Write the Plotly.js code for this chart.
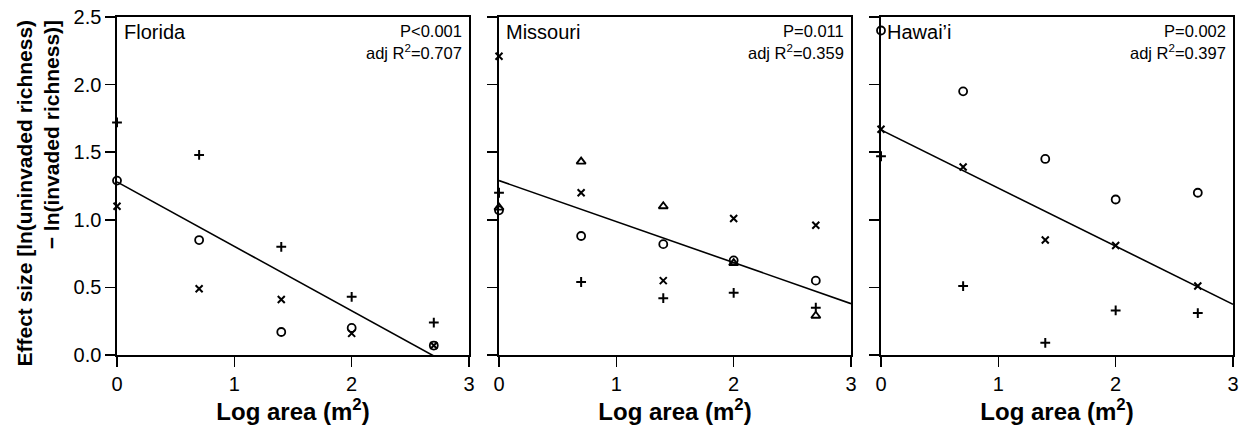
<!DOCTYPE html>
<html>
<head>
<meta charset="utf-8">
<script src="https://cdn.plot.ly/plotly-3.0.1.min.js"></script>
<style>
  html, body { margin: 0; padding: 0; background: #fff; }
  #chart { width: 1244px; height: 428px; }
</style>
</head>
<body>
<div id="chart"></div>
<script>
// ---- data ----
const logArea = [0, 0.7, 1.4, 2.0, 2.7];
const xTicks = [0, 1, 2, 3];
const yTicks = [0, 0.5, 1.0, 1.5, 2.0, 2.5];
const yTickLabels = ["0.0", "0.5", "1.0", "1.5", "2.0", "2.5"];

const panels = ["Florida", "Missouri", "Hawai\u2019i"];
const pLabels = ["P<0.001", "P=0.011", "P=0.002"];
const r2Labels = ["0.707", "0.359", "0.397"];

// Florida
const flPlus = [1.72, 1.48, 0.80, 0.43, 0.24];
const flCross = [1.10, 0.49, 0.41, 0.16, 0.07];
const flCircle = [1.29, 0.85, 0.17, 0.20, 0.07];
// Missouri
const moPlus = [1.20, 0.54, 0.42, 0.46, 0.35];
const moCross = [2.21, 1.20, 0.55, 1.01, 0.96];
const moCircle = [1.07, 0.88, 0.82, 0.70, 0.55];
const moTriangle = [1.09, 1.43, 1.10, 0.68, 0.29];
// Hawai'i
const hiPlus = [1.47, 0.51, 0.09, 0.33, 0.31];
const hiCross = [1.67, 1.39, 0.85, 0.81, 0.51];
const hiCircle = [2.40, 1.95, 1.45, 1.15, 1.20];

// regression lines (fitted values at x = 0 and x = 3)
const fitX = [0, 3];
const flFit = [1.28, -0.15];
const moFit = [1.29, 0.38];
const hiFit = [1.665, 0.375];

// ---- styling ----
const FONT = "Liberation Sans, Arial, Helvetica, sans-serif";
const INK = "#000";

function pts(x, y, axis, symbol, size, lw) {
  return {
    type: "scatter", mode: "markers", x: x, y: y,
    xaxis: "x" + axis, yaxis: "y" + axis,
    cliponaxis: false, showlegend: false, hoverinfo: "x+y",
    marker: { symbol: symbol, size: size, color: INK, line: { color: INK, width: lw } }
  };
}
function fit(y, axis) {
  return {
    type: "scatter", mode: "lines", x: fitX, y: y,
    xaxis: "x" + axis, yaxis: "y" + axis, showlegend: false, hoverinfo: "skip",
    line: { color: INK, width: 1.6 }
  };
}

const data = [
  fit(flFit, ""),
  pts(logArea, flPlus, "", "cross-thin-open", 7, 2),
  pts(logArea, flCross, "", "x-thin-open", 7, 2),
  pts(logArea, flCircle, "", "circle-open", 8, 1.8),

  fit(moFit, "2"),
  pts(logArea, moPlus, "2", "cross-thin-open", 7, 2),
  pts(logArea, moCross, "2", "x-thin-open", 7, 2),
  pts(logArea, moCircle, "2", "circle-open", 8, 1.8),
  pts(logArea, moTriangle, "2", "triangle-up-open", 8, 1.9),

  fit(hiFit, "3"),
  pts(logArea, hiPlus, "3", "cross-thin-open", 7, 2),
  pts(logArea, hiCross, "3", "x-thin-open", 7, 2),
  pts(logArea, hiCircle, "3", "circle-open", 8, 1.8)
];

const W = 1116; // plot width in px (1244 - l - r)
const domains = [[0, 352 / W], [382 / W, 734 / W], [764 / W, 1]];

function xAxis(i) {
  return {
    domain: domains[i], range: [0, 3], tickvals: xTicks, ticktext: xTicks.map(String),
    ticks: "outside", ticklen: 10, tickwidth: 1.6, tickcolor: INK,
    showline: true, mirror: true, linecolor: INK, linewidth: 1.6,
    showgrid: false, zeroline: false,
    tickfont: { family: FONT, size: 20, color: INK },
    anchor: i === 0 ? "y" : "y" + (i + 1),
    title: { text: "<b>Log area (m<sup>2</sup>)</b>", font: { family: FONT, size: 24, color: INK }, standoff: 4 }
  };
}
function yAxis(i) {
  return {
    domain: [0, 1], range: [0, 2.5], tickvals: yTicks, ticktext: yTickLabels,
    showticklabels: i === 0,
    ticks: "outside", ticklen: 10, tickwidth: 1.6, tickcolor: INK,
    showline: true, mirror: true, linecolor: INK, linewidth: 1.6,
    showgrid: false, zeroline: false,
    tickfont: { family: FONT, size: 20, color: INK },
    anchor: i === 0 ? "x" : "x" + (i + 1)
  };
}

const annotations = [];
["", "2", "3"].forEach((ax, i) => {
  annotations.push({
    xref: "x" + ax + " domain", yref: "y" + ax + " domain",
    x: 0, y: 1, xanchor: "left", yanchor: "middle", xshift: i === 2 ? 4 : 5, yshift: -15,
    text: panels[i], showarrow: false,
    font: { family: FONT, size: 20, color: INK }
  });
  annotations.push({
    xref: "x" + ax + " domain", yref: "y" + ax + " domain",
    x: 1, y: 1, xanchor: "right", yanchor: "middle", xshift: -5, yshift: -13.5,
    text: pLabels[i], showarrow: false,
    font: { family: FONT, size: 16.5, color: INK }
  });
  annotations.push({
    xref: "x" + ax + " domain", yref: "y" + ax + " domain",
    x: 1, y: 1, xanchor: "right", yanchor: "middle", xshift: -5, yshift: -35,
    text: "adj R<sup>2</sup>=" + r2Labels[i], showarrow: false,
    font: { family: FONT, size: 16.5, color: INK }
  });
});
annotations.push({
  xref: "paper", yref: "paper", x: -80 / W, y: (355 - 193.5) / 338,
  xanchor: "center", yanchor: "middle", textangle: -90, align: "right",
  text: "<b>Effect size [ln(uninvaded richness)<br>\u2212 ln(invaded richness)]</b>",
  showarrow: false, font: { family: FONT, size: 21, color: INK }
});

const layout = {
  width: 1244, height: 428,
  margin: { l: 117, r: 11, t: 17, b: 73 },
  paper_bgcolor: "#fff", plot_bgcolor: "#fff",
  showlegend: false,
  font: { family: FONT, color: INK },
  xaxis: xAxis(0), xaxis2: xAxis(1), xaxis3: xAxis(2),
  yaxis: yAxis(0), yaxis2: yAxis(1), yaxis3: yAxis(2),
  annotations: annotations
};

Plotly.newPlot("chart", data, layout, { staticPlot: true, displayModeBar: false });
</script>
</body>
</html>
